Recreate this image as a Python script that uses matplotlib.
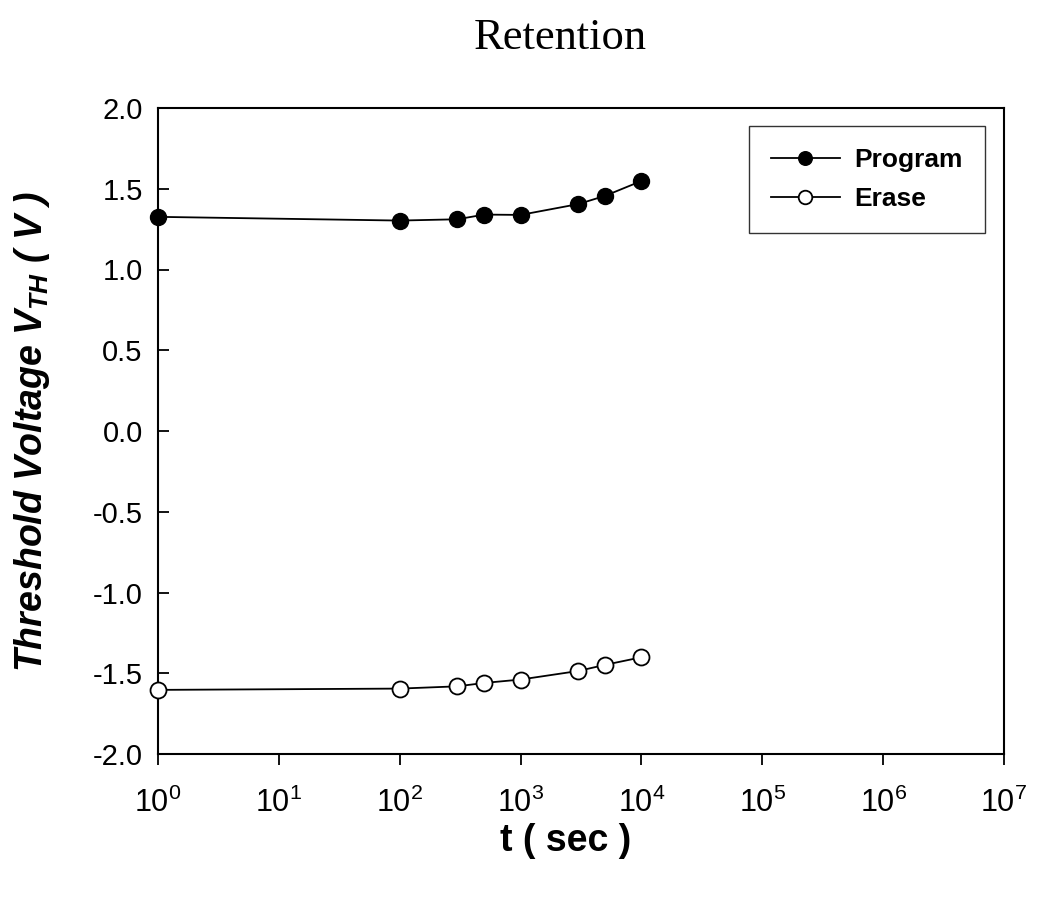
import matplotlib
matplotlib.use("Agg")
import matplotlib.pyplot as plt

plt.rcParams['font.family'] = ['Liberation Sans', 'DejaVu Sans']
plt.rcParams['mathtext.fontset'] = 'custom'
plt.rcParams['mathtext.rm'] = 'Liberation Sans'
plt.rcParams['mathtext.it'] = 'Liberation Sans:bold:italic'
plt.rcParams['mathtext.bf'] = 'Liberation Sans:bold'

time_s = [1, 100, 300, 500, 1000, 3000, 5000, 10000]
program_vth = [1.326, 1.303, 1.311, 1.340, 1.338, 1.405, 1.456, 1.548]
erase_vth = [-1.603, -1.595, -1.581, -1.560, -1.539, -1.486, -1.448, -1.401]
x_ticks = [1e0, 1e1, 1e2, 1e3, 1e4, 1e5, 1e6, 1e7]
x_tick_labels = [r'$\mathregular{10^{%d}}$' % i for i in range(8)]
y_ticks = [-2.0, -1.5, -1.0, -0.5, 0.0, 0.5, 1.0, 1.5, 2.0]

W, H = 1039, 898
fig = plt.figure(figsize=(W / 100, H / 100), dpi=100)
ax = fig.add_axes([158 / W, (H - 754) / H, 846 / W, 646 / H])

ax.plot(time_s, program_vth, '-o', color='black', lw=1.3, ms=11.5,
        mfc='black', mec='black', label='Program', clip_on=False, zorder=3)
ax.plot(time_s, erase_vth, '-o', color='black', lw=1.3, ms=11.5,
        mfc='white', mec='black', mew=1.3, label='Erase', clip_on=False, zorder=3)

ax.set_xscale('log')
ax.set_xlim(1, 1e7)
ax.set_ylim(-2.0, 2.0)
ax.set_xticks(x_ticks)
ax.set_xticklabels(x_tick_labels)
ax.minorticks_off()
ax.set_yticks(y_ticks)
ax.set_yticklabels(['%.1f' % v for v in y_ticks])

for s in ax.spines.values():
    s.set_linewidth(1.5)
ax.tick_params(axis='x', direction='out', length=8, width=1.3, labelsize=22, pad=16)
ax.tick_params(axis='y', direction='in', length=8, width=1.3, labelsize=21, pad=11)

ax.set_xlabel('t ( sec )', fontsize=27, fontweight='bold')
ax.xaxis.set_label_coords((566 - 158) / 846, -0.107)
ax.set_ylabel(r'Threshold Voltage V$_{TH}$ ( V )', fontsize=27,
              fontweight='bold', fontstyle='italic', labelpad=29)

fig.text(560 / W, 1 - 49 / H, 'Retention', family='Liberation Serif', fontsize=32,
         ha='center', va='baseline')

leg = ax.legend(loc='upper right', bbox_to_anchor=(985 / W, 1 - 126 / H),
                bbox_transform=fig.transFigure, frameon=True, fancybox=False,
                edgecolor='black', prop={'weight': 'bold', 'size': 19},
                handlelength=2.6, markerscale=0.85, borderpad=0.85, labelspacing=0.55,
                handletextpad=0.55, borderaxespad=0)
leg.get_frame().set_linewidth(1.0)

fig.savefig('out.png', dpi=100)
